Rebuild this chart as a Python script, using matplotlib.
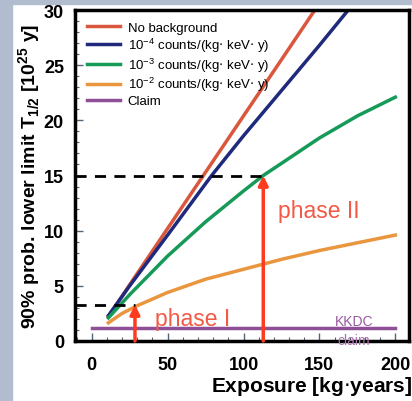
import matplotlib
matplotlib.use('Agg')
import matplotlib.pyplot as plt
from matplotlib.patches import Rectangle
from matplotlib.ticker import MultipleLocator

plt.rcParams['font.family'] = ['Liberation Sans', 'DejaVu Sans']

# exposure [kg years] and 90% limits [1e25 y]
expo_nobg = [11, 25, 50, 75, 100, 125, 147]
t_nobg = [2.2, 5.1, 10.2, 15.3, 20.4, 25.5, 30.0]

expo_b4 = [11, 25, 50, 79, 100, 125, 150, 169]
t_b4 = [2.3, 5.0, 9.6, 15.0, 18.6, 22.7, 26.8, 30.0]

expo_b3 = [11, 25, 50, 75, 100, 113, 125, 150, 175, 200]
t_b3 = [2.1, 4.2, 7.7, 10.8, 13.6, 15.0, 16.1, 18.4, 20.4, 22.1]

expo_b2 = [11, 20, 30, 50, 75, 100, 125, 150, 175, 200]
t_b2 = [1.65, 2.5, 3.2, 4.4, 5.6, 6.5, 7.4, 8.2, 8.9, 9.6]

claim_x = [0, 200]
claim_y = [1.2, 1.2]

phase1_x, phase1_t = 28.5, 3.3
phase2_x, phase2_t = 113, 15

labels = ['No background',
          r'10$^{\mathregular{-4}}$ counts/(kg$\cdot$ keV$\cdot$ y)',
          r'10$^{\mathregular{-3}}$ counts/(kg$\cdot$ keV$\cdot$ y)',
          r'10$^{\mathregular{-2}}$ counts/(kg$\cdot$ keV$\cdot$ y)',
          'Claim']

fig = plt.figure(figsize=(4.12, 4.02), dpi=100)
# slide background strips
fig.patches.append(Rectangle((0, 0), 12/412, 1, transform=fig.transFigure,
                             color='#b2bccf', zorder=-1))
fig.patches.append(Rectangle((0, 1 - 5/402), 1, 5/402, transform=fig.transFigure,
                             color='#b2bccf', zorder=-1))

ax = fig.add_axes([75/412, 60/402, 334/412, 331/402])

ax.plot(expo_nobg, t_nobg, color='#d9573c', lw=2.5, label=labels[0])
ax.plot(expo_b4, t_b4, color='#1f2a7d', lw=2.5, label=labels[1])
ax.plot(expo_b3, t_b3, color='#159a58', lw=2.5, label=labels[2])
ax.plot(expo_b2, t_b2, color='#e9963f', lw=2.5, label=labels[3])
ax.plot(claim_x, claim_y, color='#8f4f97', lw=2.5, label=labels[4])

# dashed guides
ax.plot([-11, phase2_x], [phase2_t, phase2_t], 'k--', lw=2, dashes=(4, 3))
ax.plot([-11, phase1_x], [phase1_t, phase1_t], 'k--', lw=2, dashes=(4, 3))

# arrows
for xa, ta in [(phase1_x, phase1_t), (phase2_x, phase2_t)]:
    ax.annotate('', xy=(xa, ta), xytext=(xa, 0),
                arrowprops=dict(arrowstyle='-|>', color='#ff3b1f', lw=2.5,
                                mutation_scale=14, shrinkA=0, shrinkB=0))

ax.text(123, 11.8, 'phase II', color='#f25a45', fontsize=16.5, va='center')
ax.text(42, 2.0, 'phase I', color='#f25a45', fontsize=16.5, va='center')
ax.text(160, 1.8, 'KKDC', color='#9a5aa0', fontsize=10, va='center')
ax.text(162, 0.05, 'claim', color='#b070b0', fontsize=10, va='center', clip_on=False)

ax.set_xlim(-11, 209)
ax.set_ylim(0, 30)
ax.xaxis.set_major_locator(MultipleLocator(50))
ax.xaxis.set_minor_locator(MultipleLocator(10))
ax.yaxis.set_major_locator(MultipleLocator(5))
ax.yaxis.set_minor_locator(MultipleLocator(1))
ax.tick_params(which='both', direction='in', color='#556677')
ax.tick_params(which='major', length=6, width=1)
ax.tick_params(which='minor', length=3, width=0.8)
ax.tick_params(axis='both', labelsize=13)
ax.tick_params(axis='x', pad=11)
ax.tick_params(axis='y', pad=8)
for lab in ax.get_xticklabels() + ax.get_yticklabels():
    lab.set_fontweight('bold')
for sp in ax.spines.values():
    sp.set_linewidth(2.5)

ax.set_xlabel(r'Exposure [kg$\cdot$years]', fontsize=15, fontweight='bold')
ax.xaxis.set_label_coords(1.01, -0.1)
ax.xaxis.label.set_horizontalalignment('right')
ax.set_ylabel(r'90% prob. lower limit T$_{\mathregular{1/2}}$ [10$^{\mathregular{25}}$ y]',
              fontsize=14, fontweight='bold')
ax.yaxis.set_label_coords(-0.095, 0.5)

ax.legend(loc='upper left', frameon=False, fontsize=9.5, handlelength=2.5,
          labelspacing=0.12, borderaxespad=0.5, handletextpad=0.6)

fig.savefig('out.png', dpi=100)
